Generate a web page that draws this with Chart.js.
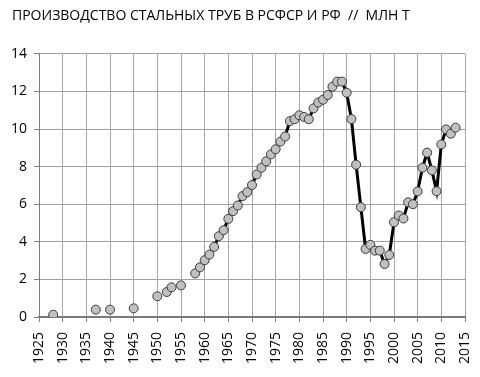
<!DOCTYPE html>
<html>
<head>
<meta charset="utf-8">
<script src="https://cdn.jsdelivr.net/npm/chart.js@4/dist/chart.umd.min.js"></script>
<style>
  html, body { margin: 0; padding: 0; background: #fff; }
  #wrap { width: 480px; height: 377px; }
</style>
</head>
<body>
<div id="wrap"><canvas id="c"></canvas></div>
<script>
// early years, plotted as loose points
const earlyYears = [1928, 1937, 1940, 1945, 1950, 1952, 1953, 1955];
const earlyValues = [0.12, 0.39, 0.39, 0.46, 1.1, 1.33, 1.58, 1.68];

// continuous series from 1958
const years = [1958, 1959, 1960, 1961, 1962, 1963, 1964, 1965, 1966, 1967,
  1968, 1969, 1970, 1971, 1972, 1973, 1974, 1975, 1976, 1977,
  1978, 1979, 1980, 1981, 1982, 1983, 1984, 1985, 1986, 1987,
  1988, 1989, 1990, 1991, 1992, 1993, 1994, 1995, 1996, 1997,
  1998, 1999, 2000, 2001, 2002, 2003, 2004, 2005, 2006, 2007,
  2008, 2009, 2010, 2011, 2012, 2013];
const values = [2.32, 2.64, 3.02, 3.32, 3.73, 4.3, 4.62, 5.22, 5.63, 5.93,
  6.43, 6.64, 7.02, 7.58, 7.94, 8.28, 8.65, 8.92, 9.33, 9.6,
  10.42, 10.52, 10.73, 10.64, 10.52, 11.1, 11.41, 11.56, 11.81, 12.25,
  12.52, 12.52, 11.93, 10.53, 8.1, 5.84, 3.62, 3.84, 3.53, 3.53,
  2.82, 3.3, 5.04, 5.4, 5.24, 6.1, 6.0, 6.68, 7.94, 8.74,
  7.8, 6.69, 9.18, 9.98, 9.75, 10.07];

const title = 'ПРОИЗВОДСТВО СТАЛЬНЫХ ТРУБ В РСФСР И РФ  //  МЛН Т';
const fontFamily = '"Open Sans", "Noto Sans", sans-serif';

const pointStyle = {
  pointRadius: 4.5,
  pointHoverRadius: 4.5,
  pointBackgroundColor: '#c0c0c0',
  pointBorderColor: '#3c3c3c',
  pointBorderWidth: 1
};

new Chart(document.getElementById('c'), {
  type: 'scatter',
  data: {
    datasets: [{
      data: earlyYears.map((y, i) => ({ x: y, y: earlyValues[i] })),
      showLine: false,
      ...pointStyle
    }, {
      data: years.map((y, i) => ({ x: y, y: values[i] })),
      showLine: true,
      borderColor: '#000',
      borderWidth: 3,
      tension: 0,
      ...pointStyle
    }]
  },
  options: {
    responsive: true,
    maintainAspectRatio: false,
    animation: false,
    layout: { padding: { left: 12, right: 15, top: 0, bottom: 0 } },
    plugins: {
      legend: { display: false },
      tooltip: { enabled: false },
      title: {
        display: true,
        text: title,
        align: 'start',
        color: '#000',
        font: { family: fontFamily, size: 14, weight: 'normal' },
        padding: { top: 8, bottom: 29 }
      }
    },
    scales: {
      x: {
        type: 'linear',
        min: 1925,
        max: 2015,
        afterFit: (s) => {
          s.height = 60;
          s.paddingLeft = 0;
          s.paddingRight = 0;
        },
        ticks: {
          stepSize: 5,
          minRotation: 90,
          maxRotation: 90,
          padding: 10,
          color: '#000',
          font: { family: fontFamily, size: 14 },
          callback: (v) => String(v)
        },
        grid: { color: '#a8a8a8', lineWidth: 1, tickLength: 5, tickColor: '#808080' },
        border: { color: '#7a7a7a', width: 2 }
      },
      y: {
        min: 0,
        max: 14,
        afterFit: (s) => { s.width = 27; },
        ticks: {
          stepSize: 2,
          padding: 7,
          color: '#000',
          font: { family: fontFamily, size: 14 }
        },
        grid: { color: '#a0a0a0', lineWidth: 1, tickLength: 5, tickColor: '#808080' },
        border: { color: '#7a7a7a', width: 1 }
      }
    }
  }
});
</script>
</body>
</html>
